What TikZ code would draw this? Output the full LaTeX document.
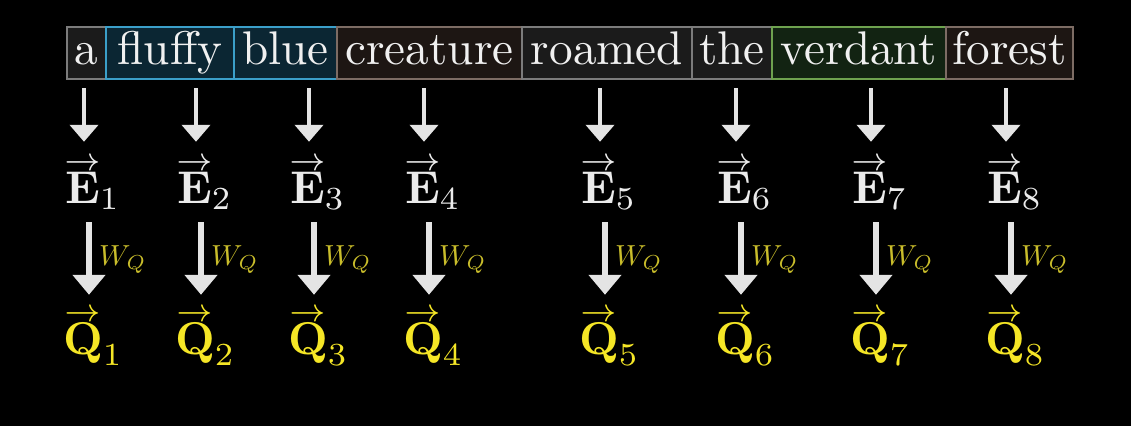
\documentclass[tikz,border=0pt]{standalone}
\usepackage{amsmath}
\usepackage{tikz}
\usetikzlibrary{arrows.meta,positioning}
\definecolor{grayline}{HTML}{7C7C7C}
\definecolor{grayfill}{HTML}{1B1B1B}
\definecolor{blueline}{HTML}{3B9FC9}
\definecolor{bluefill}{HTML}{0B2633}
\definecolor{brownline}{HTML}{7D6C64}
\definecolor{brownfill}{HTML}{1D1613}
\definecolor{greenline}{HTML}{6EA24F}
\definecolor{greenfill}{HTML}{122312}
\definecolor{arrowgray}{HTML}{E4E4E4}
\definecolor{qyellow}{HTML}{F5E626}
\definecolor{wyellow}{HTML}{C9BD2B}
\newcommand{\tokword}[1]{\scalebox{4.72}{#1}}
\newcommand{\vecsym}[2]{\scalebox{4.6}{$\ooalign{\hidewidth\raisebox{7.1pt}{$\scriptstyle\rightarrow$}\hidewidth\cr$\mathbf{#1}$\cr}_{#2}$}}
\newcommand{\wmat}{\scalebox{2.9}{$W_Q$}}

\begin{document}
\begin{tikzpicture}[x=1pt,y=-1pt,
    wordbox/.style={line width=2.5pt, text=white!94!black, inner xsep=0pt, inner ysep=3pt,
      outer sep=0pt, text height=34pt, text depth=12pt, anchor=north west},
    evec/.style={text=white!92!black, inner sep=0pt, anchor=base west},
    qvec/.style={text=qyellow, inner sep=0pt, anchor=base west},
    wlabel/.style={text=wyellow, inner sep=0pt, anchor=base west},
    tokarrow/.style={draw=arrowgray, line width=4.5pt, -{Triangle[width=28pt,length=17pt]},
      shorten <=9pt, shorten >=16pt},
    qarrow/.style={draw=arrowgray, line width=6pt, -{Triangle[width=32pt,length=20pt]},
      shorten <=12pt, shorten >=14pt}]
  \fill[black] (0,0) rectangle (1131,426);
  \foreach \i/\l/\w/\b/\f/\t in {1/67/39/grayline/grayfill/a, 2/106/128/blueline/bluefill/fluffy,
      3/234/103/blueline/bluefill/blue, 4/337/185/brownline/brownfill/creature,
      5/522/170/grayline/grayfill/roamed, 6/692/80/grayline/grayfill/the,
      7/772/174/greenline/greenfill/verdant, 8/946/127/brownline/brownfill/forest}
    \node[wordbox, draw=\b, fill=\f, minimum width=\w] (w\i) at (\l,27) {\tokword{\t}};
  \foreach \i/\x in {1/84, 2/196, 3/309, 4/424, 5/600, 6/736, 7/871, 8/1006} {
    \coordinate (c\i) at (\x,0);
    \coordinate (d\i) at (\x+5,0);
    \node[evec] (e\i) at (\x-19,203) {\vecsym{E}{\i}};
    \node[qvec] (q\i) at (\x-21,354) {\vecsym{Q}{\i}};
    \node[wlabel] (m\i) at (\x+15,265) {\wmat};
    \draw[tokarrow] (w\i.south -| c\i) -- (e\i.north -| c\i);
    \draw[qarrow] (e\i.south -| d\i) -- (q\i.north -| d\i);
  }
\end{tikzpicture}
\end{document}
